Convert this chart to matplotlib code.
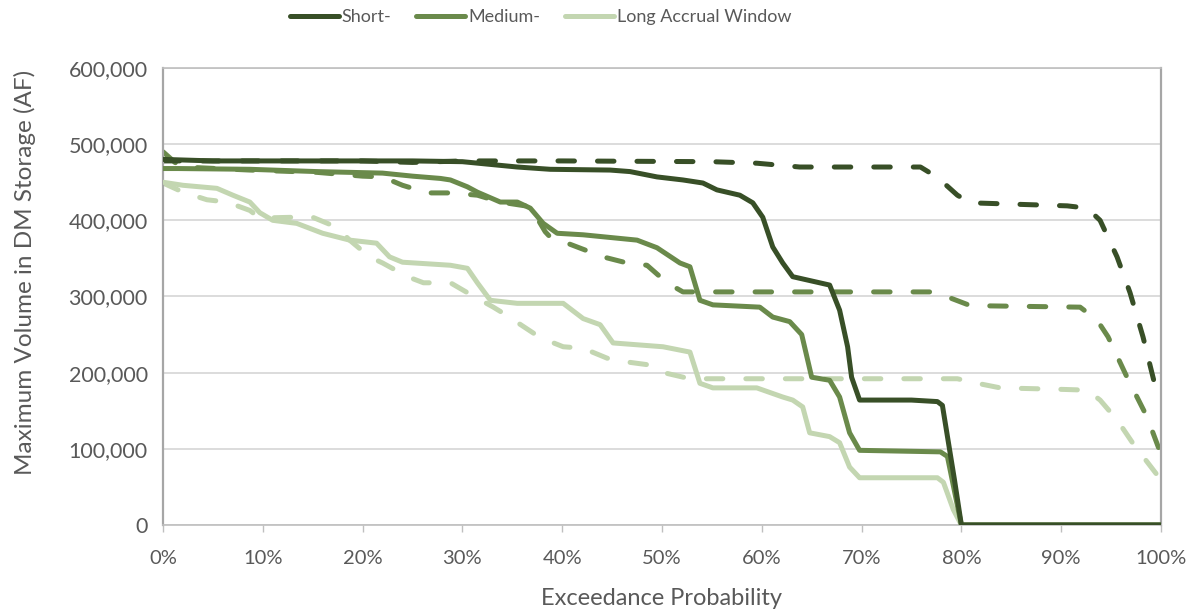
import matplotlib
matplotlib.use('Agg')
import matplotlib.pyplot as plt
from matplotlib.ticker import FuncFormatter, MultipleLocator

plt.rcParams['font.family'] = ['Lato', 'DejaVu Sans']

# exceedance probability (%) and max volume (thousand AF)
short_x = [0, 5, 15, 25, 30, 35.5, 38.8, 44.8, 46.8, 49.5, 52.1, 54.1, 55.5, 57.8, 59.1, 60.1, 61.1,
           62.1, 63.1, 66.8, 67.8, 68.6, 69.0, 69.8, 75, 77.6, 78.1, 79.3, 80, 90, 100]
short_y = [480, 478, 478, 478, 477, 470, 467, 466, 464, 457, 453, 449, 440, 433, 423, 404, 365,
           344, 326, 315, 282, 234, 194, 164, 164, 162, 157, 60, 0, 0, 0]

short_dash_x = [0, 10, 20, 25, 30, 40, 55, 59.5, 63.8, 75.9, 76.9, 77.9, 79.6, 80.9, 90.6, 92.6,
                93.9, 95.6, 96.9, 98.2, 99.6, 100]
short_dash_y = [478, 478, 478, 476, 478, 478, 477, 475, 470, 470, 462, 453, 433, 423, 419, 416,
                400, 352, 305, 247, 173, 165]

medium_x = [0, 1.5, 8.7, 15.4, 22, 25, 27.8, 28.8, 30.5, 31.5, 33.8, 35.5, 36.8, 38.1, 39.5, 42.1,
            47.5, 49.5, 51.8, 52.8, 53.8, 55.1, 59.8, 61.1, 62.8, 64.0, 65.0, 66.8, 67.8, 68.8,
            69.8, 77.9, 78.6, 80, 100]
medium_y = [468, 468, 467, 464, 462, 458, 455, 453, 444, 437, 424, 424, 416, 396, 383, 381,
            374, 364, 344, 339, 295, 289, 286, 273, 267, 250, 194, 190, 168, 121,
            98, 96, 90, 0, 0]

medium_dash_x = [0, 1.2, 2, 8.7, 15.4, 20, 22, 24, 26.5, 28.8, 31.5, 33.8, 36.8, 38.3, 38.8, 40.1,
                 44.1, 46.5, 48.5, 50.5, 52.1, 76.9, 78.9, 80.9, 91.9, 93.6, 94.7, 96.6, 98.6, 100]
medium_dash_y = [490, 476, 470, 466, 463, 458, 457, 446, 436, 436, 433, 424, 418, 385, 378, 372,
                 352, 344, 341, 318, 306, 306, 298, 288, 286, 269, 247, 194, 142, 93]

long_x = [0, 2, 5.4, 7, 8.7, 9.7, 11, 13.4, 16, 18.7, 21.4, 22.7, 24, 28.8, 30.5, 31.5, 32.8, 35.5,
          40.1, 42.1, 43.8, 45.1, 50.1, 52.8, 53.8, 55.1, 59.5, 62.1, 63.1, 64.1, 64.8, 66.8,
          67.8, 68.8, 69.8, 77.6, 78.2, 79.2, 80, 100]
long_y = [450, 446, 442, 433, 424, 410, 400, 396, 383, 374, 370, 352, 345, 341, 337, 318, 295, 291,
          291, 271, 263, 239, 234, 227, 186, 180, 180, 168, 164, 155, 121, 116,
          108, 76, 62, 62, 56, 20, 0, 0]

long_dash_x = [0, 2, 4.4, 6.4, 8.7, 9.7, 13, 15, 17.4, 18.7, 20.7, 22, 24.5, 26.1, 28.8, 30.5,
               33.1, 34.1, 37.8, 40.1, 42.1, 44.5, 46.5, 48.8, 50.5, 52.8, 79.6, 81.6, 83.9,
               90.2, 92.6, 93.9, 95.6, 97.2, 99.6, 100]
long_dash_y = [449, 437, 427, 424, 413, 403, 404, 404, 391, 374, 352, 344, 326, 318, 318, 305,
               286, 278, 246, 234, 232, 219, 214, 210, 199, 192, 192, 186, 180,
               178, 177, 164, 138, 107, 66, 62]

labels = ['Short-', 'Medium-', 'Long Accrual Window']
colors = ['#384f27', '#6a8a4b', '#c3d6b1']
grey = '#595959'

fig = plt.figure(figsize=(11.96, 6.11), dpi=100)
ax = fig.add_axes([0.1363, 0.1408, 0.8344, 0.7479])

lw = 3.6
solid = [(short_x, short_y), (medium_x, medium_y), (long_x, long_y)]
dashed = [(short_dash_x, short_dash_y), (medium_dash_x, medium_dash_y), (long_dash_x, long_dash_y)]

# dashed first, solids on top
for (x, y), c in zip(dashed[::-1], colors[::-1]):
    ax.plot([v / 100 for v in x], [v * 1000 for v in y], color=c, lw=lw,
            dashes=(3.3, 4.6), dash_capstyle='round', solid_joinstyle='round', zorder=2)
handles = []
for (x, y), c, lab in zip(solid[::-1], colors[::-1], labels[::-1]):
    h, = ax.plot([v / 100 for v in x], [v * 1000 for v in y], color=c, lw=lw,
                 solid_capstyle='round', solid_joinstyle='round', label=lab, zorder=3)
    handles.append(h)
handles = handles[::-1]

ax.set_xlim(0, 1.0)
ax.set_ylim(0, 600000)
ax.xaxis.set_major_locator(MultipleLocator(0.1))
ax.yaxis.set_major_locator(MultipleLocator(100000))
ax.xaxis.set_major_formatter(FuncFormatter(lambda v, p: f'{v * 100:.0f}%'))
ax.yaxis.set_major_formatter(FuncFormatter(lambda v, p: f'{v:,.0f}'))

ax.grid(axis='y', color='#d9d9d9', lw=1.3)
ax.set_axisbelow(True)
for s in ax.spines.values():
    s.set_color('#bfbfbf')
    s.set_linewidth(1.2)
ax.spines['left'].set_color('#a6a6a6')
ax.spines['left'].set_linewidth(1.6)
ax.spines['right'].set_color('#a6a6a6')
ax.spines['right'].set_linewidth(1.6)

ax.tick_params(axis='x', length=5, width=1, color='#bfbfbf', labelsize=14.5, labelcolor=grey, pad=13)
ax.tick_params(axis='y', length=0, labelsize=15.5, labelcolor=grey, pad=11)

ax.set_xlabel('Exceedance Probability', fontsize=17, color=grey, labelpad=15)
ax.set_ylabel('Maximum Volume in DM Storage (AF)', fontsize=17.5, color=grey)
ax.yaxis.set_label_coords(-0.127, 0.553)

fig.legend(handles=handles, labels=labels, loc='upper center', bbox_to_anchor=(0.452, 1.012),
           ncol=3, frameon=False, fontsize=13, labelcolor=grey, handlelength=2.7,
           handletextpad=0.15, columnspacing=1.4)

fig.savefig('out.png', dpi=100)
